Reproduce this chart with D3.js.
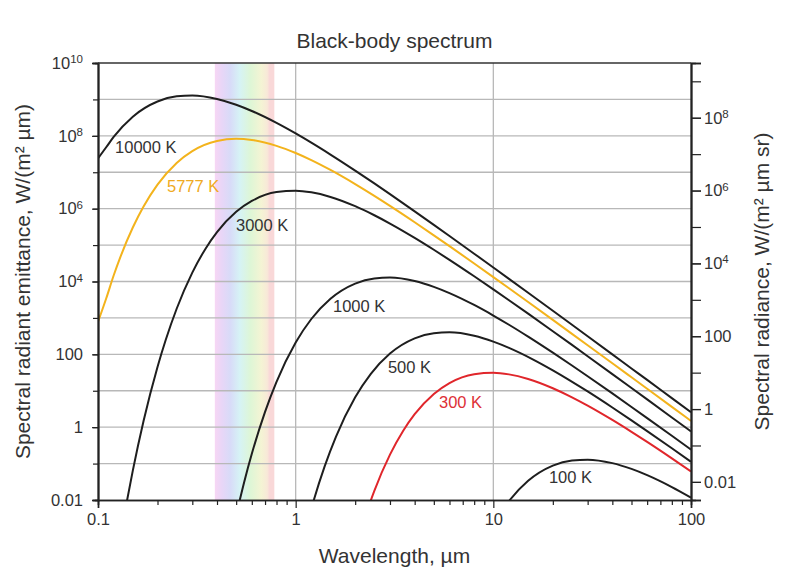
<!DOCTYPE html>
<html>
<head>
<meta charset="utf-8">
<script src="https://cdn.jsdelivr.net/npm/d3@7"></script>
<style>
  body { margin: 0; background: #fff; }
  text { font-family: Arial, "Liberation Sans", sans-serif; fill: #333; }
</style>
</head>
<body>
<div id="chart"></div>
<script>
// Curve data (wavelength in µm, emittance in W/(m² µm))
var temps = ["10000 K", "5777 K", "3000 K", "1000 K", "500 K", "300 K", "100 K"];

var wl10000 = [0.1, 0.11, 0.12, 0.15, 0.2, 0.25, 0.3, 0.4, 0.5, 0.6, 0.8, 1, 1.2, 1.5, 2, 2.5, 3, 4, 5, 6, 8, 10, 12, 15, 20, 25, 30, 40, 50, 60, 80, 100];
var em10000 = [2.4e7, 4.85e7, 9.34e7, 3.363e8, 8.785e8, 1.217e9, 1.283e9, 1.03e9, 7.14e8, 4.81e8, 2.266e8, 1.163e8, 6.49e7, 3.06e7, 1.11e7, 4.924e6, 2.502e6, 8.44e5, 3.59e5, 1.776e5, 5.8e4, 2.419e4, 1.181e4, 4893, 1567, 646.7, 313.5, 99.8, 41.0, 19.83, 6.29, 2.582];

var wl5777 = [0.1, 0.11, 0.12, 0.13, 0.15, 0.17, 0.2, 0.25, 0.3, 0.4, 0.5, 0.6, 0.8, 1, 1.2, 1.5, 2, 2.5, 3, 4, 5, 6, 8, 10, 12, 15, 20, 25, 30, 40, 50, 60, 80, 100];
var em5777 = [780, 3411, 1.457e4, 4.82e4, 3.031e5, 1.143e6, 4.566e6, 1.807e7, 3.82e7, 7.237e7, 8.278e7, 7.7e7, 5.314e7, 3.38e7, 2.158e7, 1.156e7, 4.725e6, 2.243e6, 1.19e6, 4.23e5, 1.854e5, 9.353e4, 3.126e4, 1.323e4, 6519, 2727, 881.5, 365.7, 177.9, 56.9, 23.44, 11.35, 3.612, 1.484];

var wl3000 = [0.13, 0.14, 0.15, 0.17, 0.2, 0.22, 0.25, 0.3, 0.35, 0.4, 0.5, 0.6, 0.8, 1, 1.2, 1.5, 2, 2.5, 3, 4, 5, 6, 8, 10, 12, 15, 20, 25, 30, 40, 50, 60, 80, 100];
var em3000 = [9.6e-4, 9.21e-3, 0.0641, 1.475, 45.07, 247.2, 1786, 1.756e4, 7.97e4, 2.268e5, 8.171e5, 1.626e6, 2.852e6, 3.118e6, 2.815e6, 2.1e6, 1.169e6, 6.596e5, 3.903e5, 1.577e5, 7.435e4, 3.931e4, 1.39e4, 6081, 3061, 1308, 431.4, 181.2, 88.83, 28.69, 11.89, 5.783, 1.8485, 0.7617];

var wl1000 = [0.5, 0.55, 0.6, 0.7, 0.8, 1, 1.2, 1.5, 2, 2.5, 3, 4, 5, 6, 8, 10, 12, 15, 20, 25, 30, 40, 50, 60, 80, 100];
var em1000 = [3.81e-3, 0.0324, 0.1855, 2.636, 17.65, 211.3, 933.6, 3363, 8785, 1.217e4, 1.283e4, 1.03e4, 7138, 4812, 2266, 1163.5, 649.1, 306.0, 111.0, 49.24, 25.02, 8.441, 3.59, 1.776, 0.5797, 0.2419];

var wl500 = [1.1, 1.2, 1.4, 1.6, 2, 2.4, 3, 4, 5, 6, 8, 10, 12, 16, 20, 24, 30, 40, 50, 60, 80, 100];
var em500 = [1.01e-3, 5.8e-3, 0.0824, 0.5516, 6.603, 29.18, 105.1, 274.5, 380.3, 400.9, 321.9, 223.1, 150.4, 70.81, 36.36, 20.28, 9.563, 3.469, 1.539, 0.7819, 0.2638, 0.1122];

var wl300 = [2.2, 2.5, 3, 3.5, 4, 5, 6, 8, 10, 12, 15, 20, 25, 30, 40, 50, 60, 80, 100];
var em300 = [2.47e-3, 0.01786, 0.1756, 0.797, 2.268, 8.171, 16.26, 28.52, 31.18, 28.15, 21.0, 11.69, 6.596, 3.903, 1.577, 0.7435, 0.3931, 0.139, 0.06081];

var wl100 = [10, 11, 12, 15, 20, 25, 30, 40, 50, 60, 80, 100];
var em100 = [2.113e-3, 4.85e-3, 9.34e-3, 0.03363, 0.08785, 0.1217, 0.1283, 0.103, 0.07138, 0.04812, 0.02266, 0.011635];

// Where each curve label sits, in data units
var labelWl = [0.122, 0.2234, 0.499, 1.545, 2.93, 5.31, 19.1];
var labelEm = [3.41e7, 2.9e6, 2.46e5, 1462, 30.8, 3.37, 0.0293];

// Tick labels
var xTickLabels = [0.1, 1, 10, 100];
var yTickLabels = [0.01, 1, 100, 1e4, 1e6, 1e8, 1e10];
var rTickLabels = [0.01, 1, 100, 1e4, 1e6, 1e8];
var xGrid = [1, 10];

// Visible band, µm
var visibleBand = [0.39, 0.78];

var curves = [
  { name: temps[0], wl: wl10000, em: em10000, color: "#1e1e1e", label: "#333" },
  { name: temps[1], wl: wl5777, em: em5777, color: "#f3b31c", label: "#efaa22" },
  { name: temps[2], wl: wl3000, em: em3000, color: "#1e1e1e", label: "#333" },
  { name: temps[3], wl: wl1000, em: em1000, color: "#1e1e1e", label: "#333" },
  { name: temps[4], wl: wl500, em: em500, color: "#1e1e1e", label: "#333" },
  { name: temps[5], wl: wl300, em: em300, color: "#e0262b", label: "#dd3036" },
  { name: temps[6], wl: wl100, em: em100, color: "#1e1e1e", label: "#333" }
];

// Setup Chart Dimensions
var svgWidth = 786;
var svgHeight = 584;
var margin = { top: 63, right: 95, bottom: 84, left: 98 };
var width = svgWidth - margin.left - margin.right;
var height = svgHeight - margin.top - margin.bottom;

var svg = d3.select("#chart")
  .append("svg")
  .attr("width", svgWidth)
  .attr("height", svgHeight);

var chartGroup = svg.append("g")
  .attr("transform", `translate(${margin.left}, ${margin.top})`);

// Scales
var xScale = d3.scaleLog().domain([0.1, 100]).range([0, width]);
var yScale = d3.scaleLog().domain([0.01, 1e10]).range([height, 0]);
// radiance = emittance / pi
var rScale = d3.scaleLog().domain([0.01 / Math.PI, 1e10 / Math.PI]).range([height, 0]);

// Rainbow band for visible light
var defs = svg.append("defs");
var grad = defs.append("linearGradient")
  .attr("id", "rainbow")
  .attr("x1", "0%").attr("x2", "100%").attr("y1", "0%").attr("y2", "0%");
var stops = [
  [0, "#f7d6f4"], [0.12, "#e8d6f7"], [0.26, "#d8dbf8"], [0.42, "#d6f3f5"],
  [0.6, "#def6d6"], [0.78, "#f4f4d4"], [0.88, "#f8e9d8"], [0.92, "#f9d8d8"], [1, "#f9d8d8"]
];
stops.forEach(function(s) {
  grad.append("stop").attr("offset", s[0]).attr("stop-color", s[1]);
});

chartGroup.append("rect")
  .attr("x", xScale(visibleBand[0]))
  .attr("y", 0)
  .attr("width", xScale(visibleBand[1]) - xScale(visibleBand[0]))
  .attr("height", height)
  .attr("fill", "url(#rainbow)");

// Grid lines
var yDecades = yScale.ticks().filter(function(d) {
  var e = Math.log10(d);
  return Math.abs(e - Math.round(e)) < 1e-9 && d > 0.01 && d < 1e10;
});

chartGroup.append("g")
  .selectAll("line")
  .data(yDecades)
  .enter()
  .append("line")
  .attr("x1", 0).attr("x2", width)
  .attr("y1", d => yScale(d)).attr("y2", d => yScale(d))
  .attr("stroke", "#b8b8b8")
  .attr("stroke-width", 1.3);

chartGroup.append("g")
  .selectAll("line")
  .data(xGrid)
  .enter()
  .append("line")
  .attr("x1", d => xScale(d)).attr("x2", d => xScale(d))
  .attr("y1", 0).attr("y2", height)
  .attr("stroke", "#b8b8b8")
  .attr("stroke-width", 1.3);

// Curves
chartGroup.append("clipPath")
  .attr("id", "plotClip")
  .append("rect")
  .attr("width", width)
  .attr("height", height);

var line = d3.line()
  .x(d => xScale(d[0]))
  .y(d => yScale(d[1]))
  .curve(d3.curveMonotoneX);

chartGroup.append("g")
  .attr("clip-path", "url(#plotClip)")
  .selectAll("path")
  .data(curves)
  .enter()
  .append("path")
  .attr("d", c => line(c.wl.map((w, i) => [w, c.em[i]])))
  .attr("fill", "none")
  .attr("stroke", c => c.color)
  .attr("stroke-width", 2);

chartGroup.append("g")
  .selectAll("text")
  .data(curves)
  .enter()
  .append("text")
  .attr("x", (c, i) => xScale(labelWl[i]))
  .attr("y", (c, i) => yScale(labelEm[i]))
  .style("fill", c => c.label)
  .style("font-size", "16.5px")
  .text(c => c.name);

// Tick label with superscript for big powers of ten
function powLabel(sel) {
  sel.each(function(d) {
    var t = d3.select(this);
    t.text(null);
    if (d >= 1e4) {
      var e = Math.round(Math.log10(d));
      t.append("tspan").text("10");
      t.append("tspan").attr("dy", "-0.5em").style("font-size", "11.5px").text(e);
    } else {
      t.text(d3.format("~g")(d));
    }
  });
}

// Minor / major tick positions from the scales
var xAll = xScale.ticks();
var yAll = yScale.ticks();
var rAll = rScale.ticks();
function isDecade(d) {
  var e = Math.log10(d);
  return Math.abs(e - Math.round(e)) < 1e-9;
}

// Bottom axis
var bottomMinor = d3.axisBottom(xScale).tickValues(xAll.filter(d => !isDecade(d))).tickSize(5).tickFormat("");
var bottomMajor = d3.axisBottom(xScale).tickValues(xTickLabels).tickSize(8).tickPadding(5).tickFormat(d3.format("~g"));

// Left axis
var leftMinor = d3.axisLeft(yScale).tickValues(yAll.filter(d => !isDecade(d))).tickSize(3).tickFormat("");
var leftDec = d3.axisLeft(yScale).tickValues(yAll.filter(isDecade)).tickSize(5).tickFormat("");
var leftMajor = d3.axisLeft(yScale).tickValues(yTickLabels).tickSize(6).tickPadding(9);

// Right axis
var rightMinor = d3.axisRight(rScale).tickValues(rAll.filter(d => !isDecade(d))).tickSize(5).tickFormat("");
var rightDec = d3.axisRight(rScale).tickValues(rAll.filter(isDecade)).tickSize(10).tickPadding(3).tickFormat("");
var rightMajor = d3.axisRight(rScale).tickValues(rTickLabels).tickSize(10).tickPadding(3);

function styleAxis(g) {
  g.select(".domain").attr("stroke", "#222").attr("stroke-width", 1.6);
  g.selectAll(".tick line").attr("stroke", "#222").attr("stroke-width", 1.2);
  g.selectAll(".tick text").style("font-size", "16.5px").style("fill", "#333")
    .attr("font-family", null);
}

[bottomMinor, bottomMajor].forEach(function(ax) {
  chartGroup.append("g").attr("transform", `translate(0, ${height})`).call(ax).call(styleAxis);
});
[leftMinor, leftDec].forEach(function(ax) {
  chartGroup.append("g").call(ax).call(styleAxis);
});
chartGroup.append("g").call(leftMajor).call(styleAxis)
  .selectAll(".tick text").call(powLabel);

[rightMinor, rightDec].forEach(function(ax) {
  chartGroup.append("g").attr("transform", `translate(${width}, 0)`).call(ax).call(styleAxis);
});
chartGroup.append("g").attr("transform", `translate(${width}, 0)`).call(rightMajor).call(styleAxis)
  .selectAll(".tick text").call(powLabel);

// Top frame
chartGroup.append("line")
  .attr("x1", 0).attr("x2", width)
  .attr("y1", 0).attr("y2", 0)
  .attr("stroke", "#333")
  .attr("stroke-width", 1.6);

// Titles
svg.append("text")
  .attr("x", margin.left + width / 2)
  .attr("y", 48)
  .attr("text-anchor", "middle")
  .style("font-size", "21px")
  .text("Black-body spectrum");

svg.append("text")
  .attr("x", margin.left + width / 2)
  .attr("y", 563)
  .attr("text-anchor", "middle")
  .style("font-size", "21px")
  .text("Wavelength, µm");

svg.append("text")
  .attr("transform", `translate(30, ${margin.top + height / 2}) rotate(-90)`)
  .attr("text-anchor", "middle")
  .style("font-size", "21px")
  .text("Spectral radiant emittance, W/(m² µm)");

svg.append("text")
  .attr("transform", `translate(769, ${margin.top + height / 2}) rotate(-90)`)
  .attr("text-anchor", "middle")
  .style("font-size", "21px")
  .text("Spectral radiance, W/(m² µm sr)");
</script>
</body>
</html>
